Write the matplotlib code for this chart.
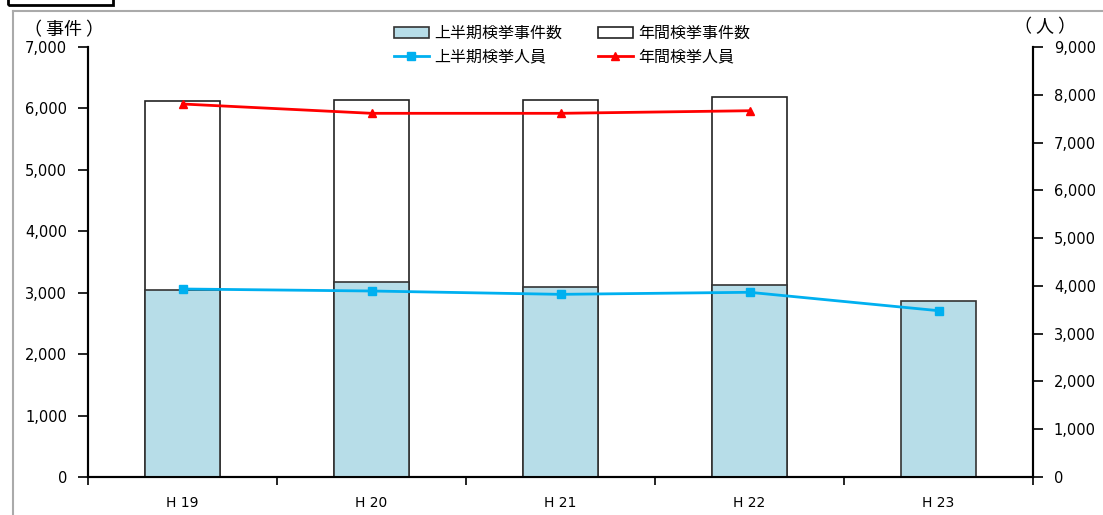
import numpy as np
import matplotlib.pyplot as plt
from matplotlib.ticker import FuncFormatter, FixedLocator

plt.rcParams['font.family'] = ['DejaVu Sans', 'Noto Sans CJK JP']

years = ['H 19', 'H 20', 'H 21', 'H 22', 'H 23']
half_cases = [3040, 3170, 3100, 3130, 2870]
year_cases = [6120, 6135, 6130, 6185]
half_people = [3935, 3893, 3823, 3866, 3481]
year_people = [7807, 7612, 7612, 7666]

jp = ['Noto Sans CJK JP', 'DejaVu Sans']
x = np.arange(len(years))

fig = plt.figure(figsize=(11.03, 5.15), dpi=100)
ax = fig.add_axes([88/1103, 38/515, 945/1103, 430/515])
ax2 = ax.twinx()

w = 0.40
ax.bar(x[:len(year_cases)], year_cases, width=w, color='white', edgecolor='#222222',
       linewidth=1.2, label='年間検挙事件数', zorder=2)
ax.bar(x, half_cases, width=w, color='#B7DDE8', edgecolor='#333333',
       linewidth=1.2, label='上半期検挙事件数', zorder=3)

ax2.plot(x, half_people, color='#00B0F0', marker='s', markersize=6, linewidth=2,
         label='上半期検挙人員')
ax2.plot(x[:len(year_people)], year_people, color='#FF0000', marker='^', markersize=6,
         linewidth=2, label='年間検挙人員')

ax.set_xlim(-0.5, len(years) - 0.5)
ax.set_ylim(0, 7000)
ax2.set_ylim(0, 9000)
ax.set_yticks(range(0, 7001, 1000))
ax2.set_yticks(range(0, 9001, 1000))
fmt = FuncFormatter(lambda v, p: f'{int(v):,}')
ax.yaxis.set_major_formatter(fmt)
ax2.yaxis.set_major_formatter(fmt)

# ticks between categories, labels centred on the bars
ax.xaxis.set_major_locator(FixedLocator(np.arange(-0.5, len(years), 1.0)))
ax.xaxis.set_major_formatter(FuncFormatter(lambda v, p: ''))
ax.xaxis.set_minor_locator(FixedLocator(x))
ax.set_xticklabels(years, minor=True)
ax.tick_params(axis='x', which='minor', length=0, pad=14, labelsize=10)
ax.tick_params(axis='x', which='major', direction='out', length=6, width=1.2)
ax.tick_params(axis='y', direction='out', length=7, width=1.2, labelsize=10.5, pad=8)
ax2.tick_params(axis='y', direction='out', length=7, width=1.2, labelsize=10.5, pad=8)

for a in (ax, ax2):
    a.spines['top'].set_visible(False)
    for s in ('left', 'right', 'bottom'):
        a.spines[s].set_linewidth(1.5)

# units
fig.text(24/1103, 1 - 30/515, '（ 事件 ）', family=jp, fontsize=13, va='center', ha='left')
fig.text(1014/1103, 1 - 27/515, '（ 人 ）', family=jp, fontsize=13, va='center', ha='left')

# legend
h1, l1 = ax.get_legend_handles_labels()
h2, l2 = ax2.get_legend_handles_labels()
handles = [h1[1], h2[0], h1[0], h2[1]]
labels = [l1[1], l2[0], l1[0], l2[1]]
fig.legend(handles, labels, ncol=2, loc='center', bbox_to_anchor=(572/1103, 1 - 45/515),
           frameon=False, prop={'family': jp, 'size': 11.5}, handlelength=2.2,
           columnspacing=2.2, labelspacing=0.4, handletextpad=0.35, borderpad=0.2)

# outer frame fragments
fig.add_artist(plt.Line2D([13/1103, 1], [1 - 11/515, 1 - 11/515], color='#aaaaaa', linewidth=1.5))
fig.add_artist(plt.Line2D([13/1103, 13/1103], [0, 1 - 11/515], color='#aaaaaa', linewidth=1.5))
fig.add_artist(plt.Rectangle((8/1103, 1 - 5/515), 105/1103, 10/515, fill=False,
                             edgecolor='black', linewidth=2))

fig.savefig('out.png', dpi=100)
